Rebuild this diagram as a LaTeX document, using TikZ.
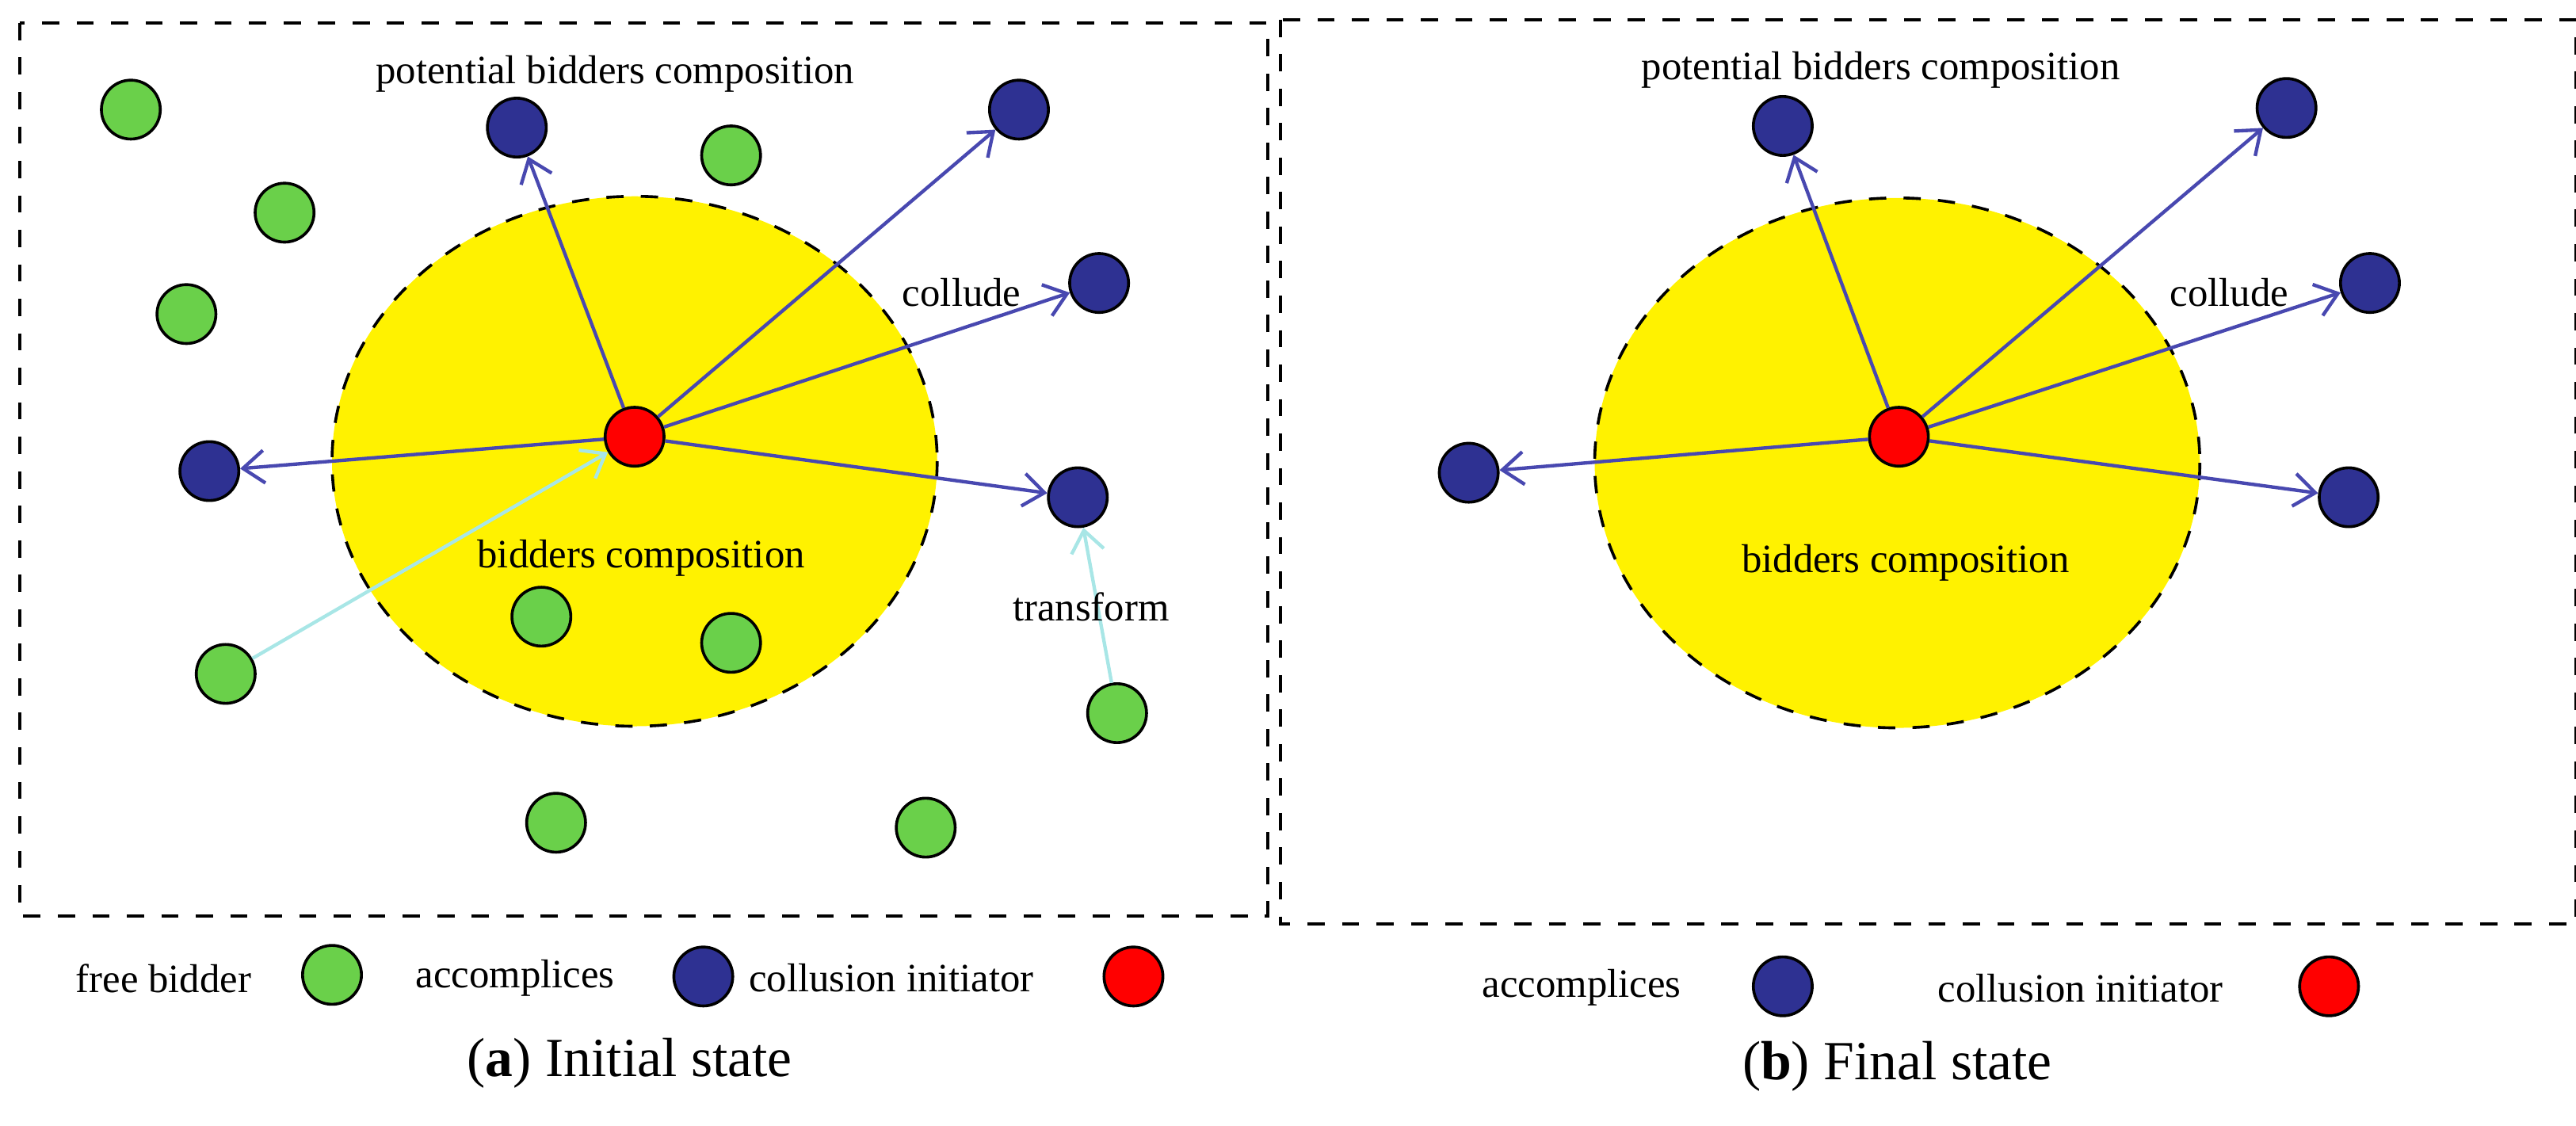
\documentclass[tikz,border=0pt]{standalone}
\usepackage{fontspec}
\setmainfont{Liberation Serif}
\usetikzlibrary{arrows.meta}
\definecolor{gfill}{HTML}{6AD04A}
\definecolor{bfill}{HTML}{2E3192}
\definecolor{afill}{HTML}{4848B0}
\definecolor{cyanl}{HTML}{A8E6E6}
\begin{document}
\begin{tikzpicture}[x=0.1mm,y=-0.1mm,
  nd/.style={circle,draw=black,line width=0.5pt,minimum size=3.6mm,inner sep=0pt},
  g/.style={nd,fill=gfill}, b/.style={nd,fill=bfill}, r/.style={nd,fill=red},
  ar/.style={draw=afill,line width=0.6pt,-{Straight Barb[length=1.3mm,width=2mm]}},
  ac/.style={draw=cyanl,line width=0.6pt,-{Straight Barb[length=1.3mm,width=2mm]}},
  lab/.style={font=\fontsize{7}{9}\selectfont},
  captxt/.style={font=\fontsize{9.6}{12}\selectfont},
  box/.style={draw,dashed,line width=0.6pt}]
\useasboundingbox (0,0) rectangle (1575,688);
% left panel
\draw[box] (12,14) rectangle (775,560);
\draw[dashed,fill=yellow,line width=0.5pt] (388,282) ellipse [x radius=185,y radius=162];
\node[r] (R) at (388,267) {};
\foreach \n/\p in {b1/{(316,78)},b2/{(623,67)},b3/{(672,173)},b4/{(128,288)},b5/{(659,304)}}
  \node[b] (\n) at \p {};
\foreach \n/\p in {g1/{(80,67)},g2/{(174,130)},g3/{(114,192)},g4/{(447,95)},g5/{(331,377)},g6/{(447,393)},g7/{(138,412)},g8/{(683,436)},g9/{(340,503)},g10/{(566,506)}}
  \node[g] (\n) at \p {};
\foreach \n in {b1,b2,b3,b4,b5} \draw[ar] (R) -- (\n);
\draw[ac] (g7) -- (R);
\draw[ac] (g8) -- (b5);
\node[lab] (t1) at (376,45) {potential bidders composition};
\node[lab] (t2) at (588,179) {collude};
\node[lab] (t3) at (392,341) {bidders composition};
\node[lab] (t4) at (667,371) {transform};
\node[lab] (l1) at (100,598) {free bidder};
\node[g] (lg1) at (203,596) {};
\node[lab] (l2) at (315,598) {accomplices};
\node[b] (lb1) at (430,597) {};
\node[lab] (l3) at (545,598) {collusion initiator};
\node[r] (lr1) at (693,597) {};
\node[captxt] (c1) at (385,650) {(\textbf{a}) Initial state};
% right panel
\draw[box] (783,12) rectangle (1575,565);
\draw[dashed,fill=yellow,line width=0.5pt] (1160,283) ellipse [x radius=185,y radius=162];
\node[r] (R2) at (1161,267) {};
\foreach \n/\p in {c1/{(1090,77)},c2/{(1398,66)},c3/{(1449,173)},c4/{(898,289)},c5/{(1436,304)}}
  \node[b] (\n) at \p {};
\foreach \n in {c1,c2,c3,c4,c5} \draw[ar] (R2) -- (\n);
\node[lab] (s1) at (1150,43) {potential bidders composition};
\node[lab] (s2) at (1363,179) {collude};
\node[lab] (s3) at (1165,344) {bidders composition};
\node[lab] (m2) at (967,604) {accomplices};
\node[b] (mb) at (1090,603) {};
\node[lab] (m3) at (1272,604) {collusion initiator};
\node[r] (mr) at (1424,603) {};
\node[captxt] (c2cap) at (1160,652) {(\textbf{b}) Final state};
\end{tikzpicture}
\end{document}
